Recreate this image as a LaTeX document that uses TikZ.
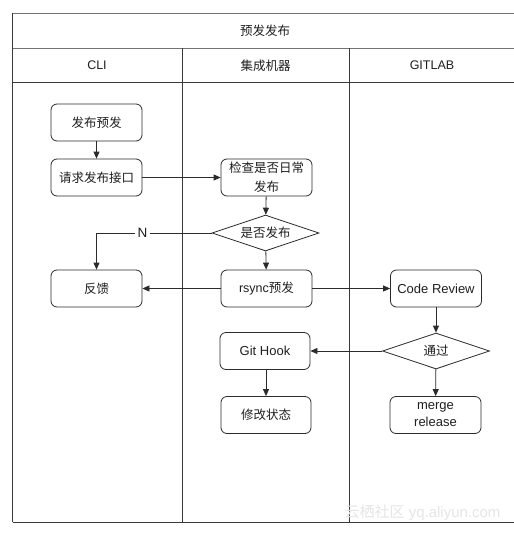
\documentclass[tikz,border=0pt]{standalone}
\usepackage{fontspec}
\setmainfont{Liberation Sans}
\newfontfamily\cjk{Noto Sans CJK SC}
\usetikzlibrary{shapes.geometric,arrows.meta}
\definecolor{lineC}{HTML}{2B2B2B}
\definecolor{frameC}{HTML}{3A3A3A}
\definecolor{wmC}{HTML}{E6E6E6}
\begin{document}
\begin{tikzpicture}[x=1pt,y=-1pt,
  every node/.style={font=\fontsize{12.5}{15}\selectfont, text=black!88},
  box/.style={draw=lineC, line width=0.8pt, rounded corners=6pt, minimum width=91pt, minimum height=37pt, inner sep=1pt, align=center},
  dec/.style={draw=lineC, line width=0.8pt, diamond, aspect=3, minimum width=107pt, minimum height=36pt, inner sep=0pt},
  arr/.style={draw=lineC, line width=0.8pt, -{Triangle[length=7pt,width=6pt]}},
  frame/.style={draw=frameC, line width=0.9pt}
]
\useasboundingbox (0,0) rectangle (514,533);
\fill[white] (0,0) rectangle (514,533);
% frame
\draw[frame, draw=black!55] (12.5,13) -- (514,13);
\draw[frame, draw=black!55] (12.5,48) -- (514,48);
\draw[frame] (12.5,82) -- (514,82);
\draw[frame] (12.5,522) -- (514,522);
\draw[frame] (12.5,13) -- (12.5,522);
\draw[frame] (182,48) -- (182,522);
\draw[frame] (349,48) -- (349,522);
% headers
\node (title) at (265,31) {\cjk 预发发布};
\node (hcli) at (97,65.5) {CLI};
\node (hji) at (265.5,65.5) {\cjk 集成机器};
\node (hgit) at (432,65.5) {GITLAB};
% nodes
\node[box] (fb) at (96.5,122.5) {\cjk 发布预发};
\node[box] (qq) at (96.5,177.5) {\cjk 请求发布接口};
\node[box, text width=84pt, minimum height=37pt, inner sep=0pt, font=\fontsize{12.5}{19}\selectfont] (jc) at (266.5,177.5) {\cjk 检查是否日常\\发布};
\node[dec] (sf) at (265.5,233) {\cjk 是否发布};
\node[box] (fk) at (96.5,288.5) {\cjk 反馈};
\node[box] (rs) at (266.5,288.5) {rsync{\cjk 预发}};
\node[box, font=\fontsize{13}{15}\selectfont] (cr) at (436,288.5) {Code Review};
\node[dec] (tg) at (436,351) {\cjk 通过};
\node[box, minimum width=90pt, font=\fontsize{13}{15}\selectfont] (gh) at (265,351) {Git Hook};
\node[box, minimum width=90pt] (xg) at (266,415) {\cjk 修改状态};
\node[box, font=\fontsize{13}{17}\selectfont] (mr) at (435.5,415) {merge\\release};
% connectors
\draw[arr] (fb) -- (qq);
\draw[arr] (qq) -- (jc);
\draw[arr] (jc) -- (sf);
\draw[arr] (sf.west) -| (fk.north) node[pos=0.3, fill=white, inner sep=3pt, font=\fontsize{13.5}{15}\selectfont] {N};
\draw[arr] (sf) -- (rs);
\draw[arr] (rs) -- (fk);
\draw[arr] (rs) -- (cr);
\draw[arr] (cr) -- (tg);
\draw[arr] (tg) -- (gh);
\draw[arr] (gh.south -| xg.north) -- (xg);
\draw[arr] (tg) -- (mr);
% watermark
\node[text=wmC, font=\fontsize{15}{17}\selectfont, anchor=east] (wm) at (504,513) {{\cjk 云栖社区} yq.aliyun.com};
\end{tikzpicture}
\end{document}
